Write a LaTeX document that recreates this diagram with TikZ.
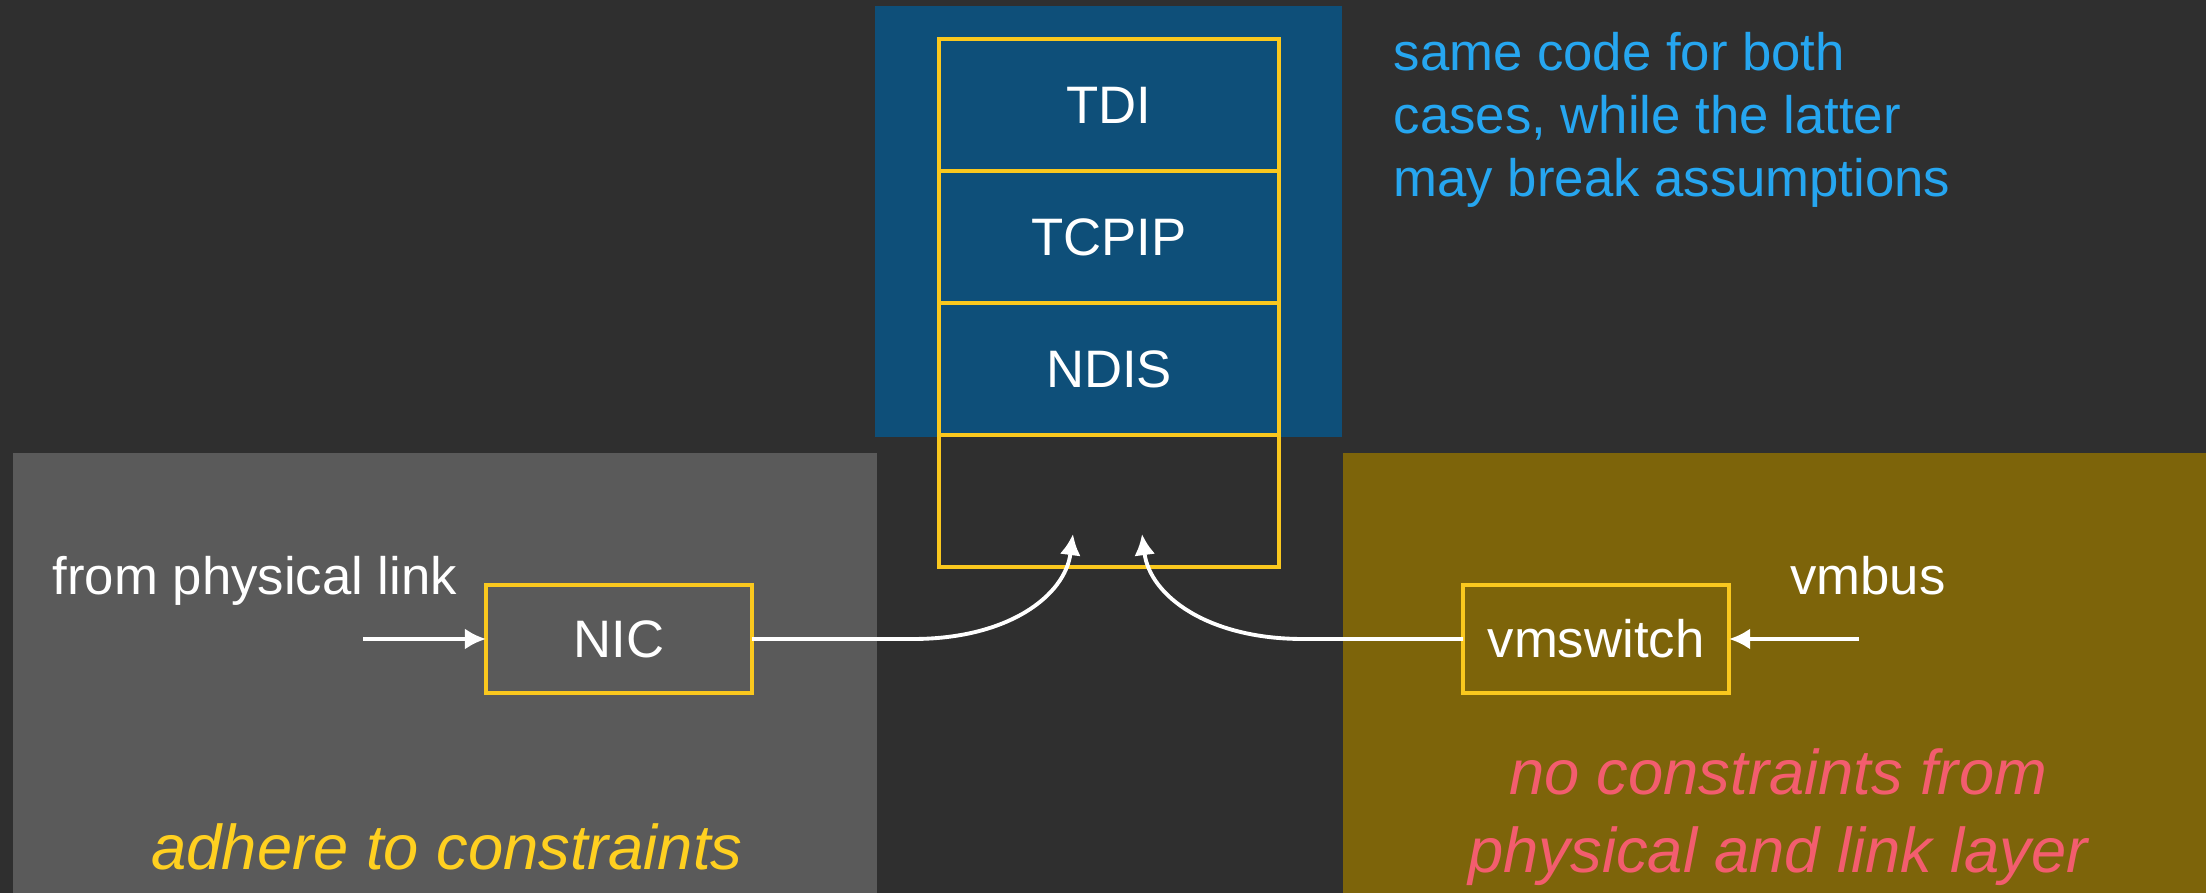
\documentclass[tikz,border=0pt]{standalone}
\usepackage{fontspec}
\setmainfont{Liberation Sans}
\usetikzlibrary{arrows.meta,positioning}
\definecolor{bgDark}{RGB}{47,47,47}
\definecolor{grayPanel}{RGB}{90,90,90}
\definecolor{bluePanel}{RGB}{14,79,121}
\definecolor{olivePanel}{RGB}{125,100,10}
\definecolor{lineYellow}{RGB}{250,200,30}
\definecolor{noteYellow}{RGB}{255,208,32}
\definecolor{noteBlue}{RGB}{38,166,240}
\definecolor{noteRed}{RGB}{243,93,110}
\tikzset{
  layer/.style={rectangle, draw=lineYellow, line width=1.1pt, outer sep=0pt,
                minimum width=3.4cm, minimum height=1.32cm, inner sep=0pt,
                text=white, font=\fontsize{15pt}{18pt}\selectfont},
  chip/.style={layer, minimum width=2.66cm, minimum height=1.08cm},
  label/.style={text=white, inner sep=0pt, font=\fontsize{15pt}{18pt}\selectfont},
  note/.style={inner sep=0pt, font=\fontsize{18pt}{22pt}\selectfont\itshape, align=center},
  flow/.style={-{Latex[length=6pt,width=6pt]}, white, line width=1.1pt}
}

\begin{document}
\begin{tikzpicture}

\useasboundingbox (0,0) rectangle (22.06,-8.93);
\fill[bgDark] (0,0) rectangle (22.06,-8.93);

% Panels
\fill[bluePanel] (8.75,-0.06) rectangle (13.42,-4.37);
\fill[grayPanel] (0.13,-4.53) rectangle (8.77,-8.93);
\fill[olivePanel] (13.43,-4.53) rectangle (22.06,-8.93);

% Stack
\node[layer] (tdi) at (11.09,-1.05) {TDI};
\node[layer, below=0pt of tdi] (tcpip) {TCPIP};
\node[layer, below=0pt of tcpip] (ndis) {NDIS};
\node[layer, below=0pt of ndis] (drv) {};

% Bottom boxes
\node[chip] (nic) at (6.19,-6.39) {NIC};
\node[chip] (vms) at (15.96,-6.39) {vmswitch};

% Labels
\node[label, anchor=base west] (physTxt) at (0.52,-5.95) {from physical link};
\node[label, anchor=base] (busTxt) at (18.68,-5.95) {vmbus};
\node[label, anchor=base west, align=left, text=noteBlue] (topNote) at (13.93,-1.97)
  {same code for both\\cases, while the latter\\may break assumptions};
\node[note, anchor=base, text=noteYellow] (leftNote) at (4.47,-8.70) {adhere to constraints};
\node[note, anchor=base, text=noteRed] (rightNote) at (17.78,-8.72)
  {no constraints from\\physical and link layer};

% Arrow ends
\coordinate (phys) at (3.63,-6.39);
\coordinate (bus) at (18.59,-6.39);
\coordinate (inL) at ([shift={(-0.36,0.33)}]drv.south);
\coordinate (inR) at ([shift={(0.33,0.33)}]drv.south);

% Arrows
\draw[flow] (phys) -- (nic.west);
\draw[flow] (bus) -- (vms.east);
\draw[flow] (nic.east) -- ++(1.61,0) .. controls +(0.95,0) and +(-0.08,-0.62) .. (inL);
\draw[flow] (vms.west) -- ++(-1.60,0) .. controls +(-0.95,0) and +(0.08,-0.62) .. (inR);

\end{tikzpicture}
\end{document}
